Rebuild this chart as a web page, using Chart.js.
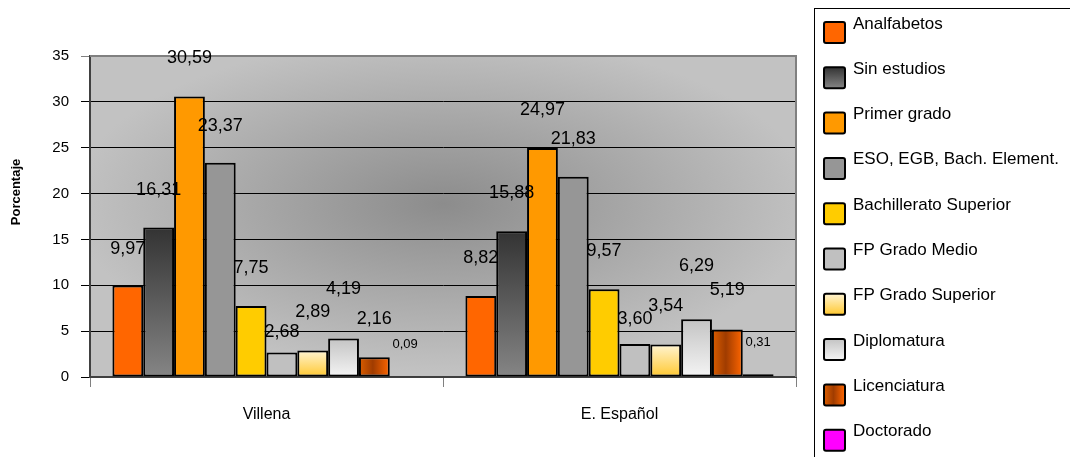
<!DOCTYPE html>
<html><head><meta charset="utf-8">
<script src="https://cdn.jsdelivr.net/npm/chart.js@4/dist/chart.umd.min.js"></script>
<style>html,body{margin:0;padding:0;background:#fff;}#wrap{width:1070px;height:457px;}</style>
</head><body><div id="wrap"><canvas id="c" width="1070" height="457"></canvas></div>
<script>
// ---- data ----
const categories = ['Villena', 'E. Español'];
const seriesNames = ['Analfabetos', 'Sin estudios', 'Primer grado', 'ESO, EGB, Bach. Element.', 'Bachillerato Superior', 'FP Grado Medio', 'FP Grado Superior', 'Diplomatura', 'Licenciatura', 'Doctorado'];
const villenaValues = [9.97, 16.31, 30.59, 23.37, 7.75, 2.68, 2.89, 4.19, 2.16, 0.09];
const espanolValues = [8.82, 15.88, 24.97, 21.83, 9.57, 3.60, 3.54, 6.29, 5.19, 0.31];
const yTickValues = [0, 5, 10, 15, 20, 25, 30, 35];
const yAxisTitle = 'Porcentaje';

// ---- styles ----
const FONT = "'Liberation Sans', Arial, Helvetica, sans-serif";
const CAT_PCT = 0.873;
const fills = [
  {type: 'solid', c: '#FF6600'},
  {type: 'v', stops: [[0, '#333333'], [1, '#858585']]},
  {type: 'solid', c: '#FF9900'},
  {type: 'solid', c: '#969696'},
  {type: 'solid', c: '#FFCC00'},
  {type: 'solid', c: '#C0C0C0'},
  {type: 'v', stops: [[0, '#FFF4D2'], [1, '#FFC830']]},
  {type: 'v', stops: [[0, '#C4C4C4'], [1, '#F4F4F4']]},
  {type: 'h', stops: [[0, '#DC5E00'], [0.45, '#A03C00'], [1, '#FF6600']]},
  {type: 'solid', c: '#FF00FF'}
];
const labelLift = [[32, 33], [32, 33], [33, 33], [32, 33], [33, 33], [15, 20], [33, 34], [45, 48], [33, 34], [28, 28]];

function makeGrad(ctx, spec, x0, y0, x1, y1) {
  if (spec.type === 'solid') return spec.c;
  let g;
  if (spec.type === 'v') {
    if (Math.abs(y1 - y0) < 1) y1 = y0 + 1;
    g = ctx.createLinearGradient(0, y0, 0, y1);
  } else {
    if (Math.abs(x1 - x0) < 1) x1 = x0 + 1;
    g = ctx.createLinearGradient(x0, 0, x1, 0);
  }
  spec.stops.forEach(s => g.addColorStop(s[0], s[1]));
  return g;
}

function barFill(c) {
  const spec = fills[c.datasetIndex];
  if (spec.type === 'solid') return spec.c;
  const chart = c.chart, xs = chart.scales.x, ys = chart.scales.y;
  if (!chart.chartArea || !xs || !ys || c.type !== 'data') return spec.stops[spec.stops.length - 1][1];
  const top = ys.getPixelForValue(c.raw), base = ys.getPixelForValue(0);
  const bw = xs.width / categories.length * CAT_PCT / seriesNames.length;
  const cx = xs.getPixelForValue(c.dataIndex) + (c.datasetIndex - (seriesNames.length - 1) / 2) * bw;
  return makeGrad(chart.ctx, spec, cx - bw / 2, top, cx + bw / 2, base);
}

const datasets = seriesNames.map((name, i) => ({
  label: name,
  data: [villenaValues[i], espanolValues[i]],
  backgroundColor: barFill,
  borderColor: '#000000',
  borderWidth: 2,
  borderSkipped: false,
  categoryPercentage: CAT_PCT,
  barPercentage: 1.0
}));

const bgPlugin = {
  id: 'plotBg',
  beforeDraw(chart) {
    const ca = chart.chartArea, ctx = chart.ctx;
    if (!ca) return;
    ctx.save();
    const cx = (ca.left + ca.right) / 2, cy = ca.top + (ca.bottom - ca.top) * 0.46;
    const rx = (ca.right - ca.left) / 2, ry = (ca.bottom - ca.top) / 2;
    ctx.beginPath();
    ctx.rect(ca.left, ca.top, ca.right - ca.left, ca.bottom - ca.top);
    ctx.clip();
    ctx.translate(cx, cy);
    ctx.scale(1, ry / rx);
    const g = ctx.createRadialGradient(0, 0, 0, 0, 0, rx * 1.05);
    g.addColorStop(0, '#8C8C8C');
    g.addColorStop(1, '#C2C2C2');
    ctx.fillStyle = g;
    ctx.fillRect(-rx * 2, -rx * 2, rx * 4, rx * 4);
    ctx.restore();
  },
  beforeDatasetsDraw(chart) {
    const ca = chart.chartArea, ctx = chart.ctx;
    ctx.save();
    ctx.strokeStyle = '#808080';
    ctx.lineWidth = 2;
    ctx.beginPath();
    ctx.moveTo(ca.left, ca.top);
    ctx.lineTo(ca.right, ca.top);
    ctx.lineTo(ca.right, ca.bottom);
    ctx.stroke();
    ctx.restore();
  },
  afterDraw(chart) {
    const ctx = chart.ctx;
    ctx.save();
    ctx.translate(16, 192);
    ctx.rotate(-Math.PI / 2);
    ctx.font = 'bold 13px ' + FONT;
    ctx.fillStyle = '#000';
    ctx.textAlign = 'center';
    ctx.textBaseline = 'middle';
    ctx.fillText(yAxisTitle, 0, 0);
    ctx.restore();
  }
};

const labelPlugin = {
  id: 'valueLabels',
  afterDatasetsDraw(chart) {
    const ctx = chart.ctx;
    ctx.save();
    ctx.fillStyle = '#000';
    ctx.textAlign = 'center';
    ctx.textBaseline = 'alphabetic';
    chart.data.datasets.forEach((ds, di) => {
      const meta = chart.getDatasetMeta(di);
      ctx.font = (di === seriesNames.length - 1 ? '13px ' : '18px ') + FONT;
      meta.data.forEach((el, i) => {
        const txt = ds.data[i].toFixed(2).replace('.', ',');
        ctx.fillText(txt, el.x, el.y - labelLift[di][i]);
      });
    });
    ctx.restore();
  }
};

const legendPlugin = {
  id: 'boxLegend',
  afterDraw(chart) {
    const ctx = chart.ctx;
    const lx = chart.chartArea.right + 18;
    ctx.save();
    ctx.strokeStyle = '#000';
    ctx.lineWidth = 1;
    ctx.strokeRect(Math.round(lx) + 0.5, 8.5, 400, 600);
    ctx.font = '17px ' + FONT;
    ctx.textBaseline = 'alphabetic';
    ctx.textAlign = 'left';
    chart.data.datasets.forEach((ds, i) => {
      const cy = 32.5 + i * 45.3;
      const mx = lx + 10, my = cy - 10.5, ms = 21;
      ctx.fillStyle = makeGrad(ctx, fills[i], mx, my, mx + ms, my + ms);
      ctx.beginPath();
      ctx.roundRect(mx, my, ms, ms, 2);
      ctx.fill();
      ctx.lineWidth = 2;
      ctx.strokeStyle = '#000';
      ctx.stroke();
      ctx.fillStyle = '#000';
      ctx.fillText(ds.label, lx + 39, cy - 4);
    });
    ctx.restore();
  }
};

new Chart(document.getElementById('c'), {
  type: 'bar',
  data: {labels: categories, datasets: datasets},
  options: {
    responsive: false,
    animation: false,
    events: [],
    layout: {padding: {left: 0, right: 274, top: 56, bottom: 0}},
    plugins: {legend: {display: false}, tooltip: {enabled: false}},
    scales: {
      x: {
        offset: true,
        grid: {offset: true, drawOnChartArea: false, drawTicks: true, tickLength: 10, color: '#808080', lineWidth: 1},
        border: {color: '#404040', width: 2},
        ticks: {color: '#000', font: {family: FONT, size: 16}, padding: 18},
        afterFit(s) { s.height = 80; }
      },
      y: {
        min: 0, max: 35,
        afterBuildTicks(s) { s.ticks = yTickValues.map(v => ({value: v})); },
        grid: {color: c => (c.tick && c.tick.value === 35 ? '#808080' : '#000000'), lineWidth: 1, tickLength: 9, drawTicks: true},
        border: {color: '#404040', width: 2},
        ticks: {color: '#000', font: {family: FONT, size: 15}, padding: 12},
        title: {display: false, text: yAxisTitle},
        afterFit(s) { s.width = 90; }
      }
    }
  },
  plugins: [bgPlugin, labelPlugin, legendPlugin]
});
</script>
</body></html>
